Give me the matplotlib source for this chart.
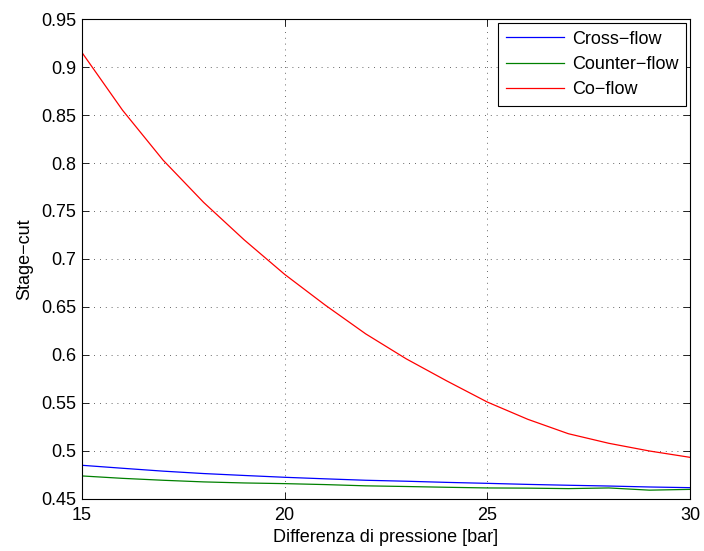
import matplotlib
matplotlib.use("Agg")
import matplotlib.pyplot as plt
import numpy as np

plt.rcParams['font.family'] = ['Liberation Sans', 'DejaVu Sans']

# pressure difference [bar]
dp = [15, 16, 17, 18, 19, 20, 21, 22, 23, 24, 25, 26, 27, 28, 29, 30]

cross_flow = [0.4851, 0.4820, 0.4790, 0.4765, 0.4745, 0.4726, 0.4710, 0.4695,
              0.4685, 0.4673, 0.4663, 0.4652, 0.4643, 0.4635, 0.4625, 0.4618]
counter_flow = [0.4740, 0.4715, 0.4695, 0.4678, 0.4667, 0.4660, 0.4650, 0.4637,
                0.4630, 0.4622, 0.4615, 0.4613, 0.4608, 0.4615, 0.4592, 0.4600]
co_flow = [0.915, 0.855, 0.803, 0.759, 0.720, 0.684, 0.652, 0.622,
           0.596, 0.573, 0.551, 0.533, 0.518, 0.508, 0.500, 0.4934]

yticks = [0.45, 0.5, 0.55, 0.6, 0.65, 0.7, 0.75, 0.8, 0.85, 0.9, 0.95]
yticklabels = ['0.45', '0.5', '0.55', '0.6', '0.65', '0.7', '0.75', '0.8',
               '0.85', '0.9', '0.95']
xticks = [15, 20, 25, 30]

fig = plt.figure(figsize=(7.04, 5.51), dpi=100)
ax = fig.add_axes([0.1165, 0.0944, 0.8635, 0.8711])

ax.plot(dp, cross_flow, color='#0000ff', lw=0.9, label='Cross\u2212flow')
ax.plot(dp, counter_flow, color='#008000', lw=0.9, label='Counter\u2212flow')
ax.plot(dp, co_flow, color='#ff0000', lw=0.9, label='Co\u2212flow')

ax.set_xlim(15, 30)
ax.set_ylim(0.45, 0.95)
ax.set_xticks(xticks)
ax.set_yticks(yticks)
ax.set_yticklabels(yticklabels)
ax.tick_params(direction='in', length=5, width=0.6, labelsize=13,
               top=True, right=True)
ax.tick_params(axis='x', pad=6)
ax.tick_params(axis='y', pad=4)
for s in ax.spines.values():
    s.set_linewidth(0.8)

ax.grid(True, color='black', linestyle=(0, (1, 6)), linewidth=0.6, alpha=0.8)

ax.set_xlabel('Differenza di pressione [bar]', fontsize=13, labelpad=3.5)
ax.set_ylabel('Stage\u2212cut', fontsize=13, labelpad=6)

leg = ax.legend(loc='upper right', fontsize=13, fancybox=False,
                edgecolor='black', framealpha=1, borderaxespad=0.2,
                handlelength=3.2, handletextpad=0.45, labelspacing=0.45,
                borderpad=0.45)
leg.get_frame().set_linewidth(0.8)

fig.savefig('out.png', dpi=100)
